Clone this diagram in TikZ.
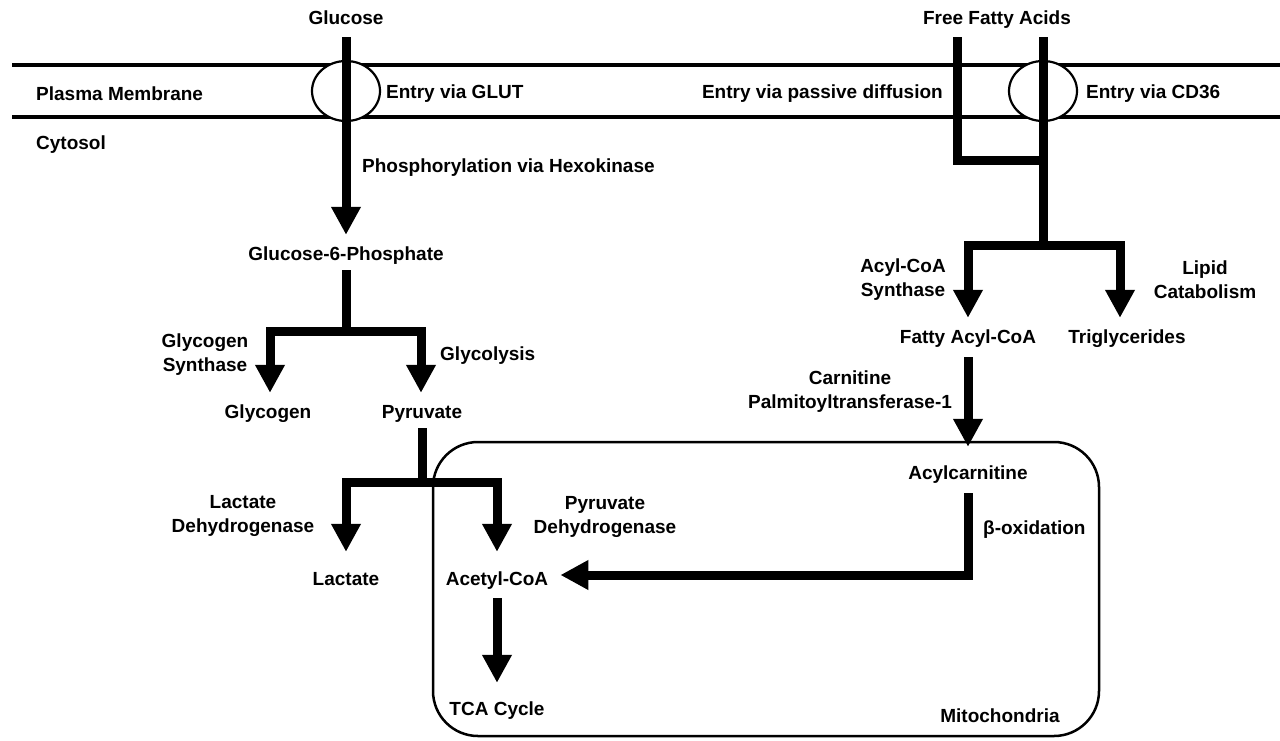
\documentclass[tikz,border=0pt]{standalone}
\usepackage{fontspec}
\setmainfont{Liberation Sans}
\usetikzlibrary{arrows.meta,shapes.geometric,calc}
\begin{document}
\begin{tikzpicture}[x=1pt,y=-1pt,
  every node/.style={font=\bfseries\fontsize{19}{24}\selectfont, inner sep=0pt},
  tx/.style={text height=14pt, text depth=4pt},
  lbl/.style={align=center},
  flow/.style={line width=9pt, line join=miter, -{Triangle[width=28pt,length=28pt]}},
  bar/.style={line width=9pt, line join=miter},
  mem/.style={line width=3.5pt},
  chan/.style={draw, ellipse, line width=2.2pt, fill=white, minimum width=68pt, minimum height=60pt},
  mitostyle/.style={draw, line width=2.5pt, rounded corners=45pt, minimum width=666pt, minimum height=294pt}
]
\useasboundingbox (0,0) rectangle (1280,740);

% plasma membrane
\draw[mem] (12,65) -- (1280,65);
\draw[mem] (12,117) -- (1280,117);

% transporters
\node[chan] (glut) at (346,91) {};
\node[chan] (cd36) at (1043,91) {};

% mitochondrion
\node[mitostyle] (mitobox) at (766,589) {};

% labels and metabolites
\node[tx] (glc) at (346,19) {Glucose};
\node[tx] (ffa) at (997,19) {Free Fatty Acids};
\node[tx,anchor=west] (pm) at (36,95) {Plasma Membrane};
\node[tx,anchor=west] (cyt) at (36,144) {Cytosol};
\node[tx,anchor=west] (eglut) at (386,93) {Entry via GLUT};
\node[tx,anchor=east] (epd) at (943,93) {Entry via passive diffusion};
\node[tx,anchor=west] (ecd) at (1086,93) {Entry via CD36};
\node[tx,anchor=west] (hex) at (362,167) {Phosphorylation via Hexokinase};
\node[tx] (g6p) at (346,255) {Glucose-6-Phosphate};
\node[lbl] (gs) at (205,355) {Glycogen\\Synthase};
\node[tx] (glyc) at (268,413) {Glycogen};
\node[tx] (pyr) at (422,413) {Pyruvate};
\node[tx,anchor=west] (glycol) at (440,355) {Glycolysis};
\node[lbl] (ldh) at (243,516) {Lactate\\Dehydrogenase};
\node[lbl] (pdh) at (605,517) {Pyruvate\\Dehydrogenase};
\node[tx] (lac) at (346,580) {Lactate};
\node[tx] (acoa) at (497,580) {Acetyl-CoA};
\node[tx] (tca) at (497,710) {TCA Cycle};
\node[tx] (mito) at (1000,717) {Mitochondria};
\node[lbl] (acs) at (903,280) {Acyl-CoA\\Synthase};
\node[lbl] (lip) at (1205,280) {Lipid\\Catabolism};
\node[tx] (faco) at (968,338) {Fatty Acyl-CoA};
\node[tx] (tg) at (1127,338) {Triglycerides};
\node[lbl] (cpt) at (850,392) {Carnitine\\Palmitoyltransferase-1};
\node[tx] (acar) at (968,474) {Acylcarnitine};
\node[tx,anchor=west] (beta) at (983,529) {β-oxidation};

% junction coordinates
\coordinate (g6pj) at ($(g6p.south)+(0,67)$);
\coordinate (pyrj) at ($(pyr.south)+(0,60)$);
\coordinate (ffal) at ($(ffa.south)+(-40,9)$);
\coordinate (ffar) at ($(ffa.south)+(46,9)$);
\coordinate (ffab) at ($(ffal)+(0,123)$);
\coordinate (ffaj) at ($(ffar)+(0,208)$);

% glucose branch
\draw[flow] ($(glc.south)+(0,9)$) -- ($(g6p.north)+(0,-11)$);
\draw[bar] ($(g6p.south)+(0,6)$) -- (g6pj);
\draw[flow] (g6pj) -| ($(glyc.north)+(2,-11)$);
\draw[flow] (g6pj) -| ($(pyr.north)+(-1,-11)$);
\draw[bar] ($(pyr.south)+(0,6)$) -- (pyrj);
\draw[flow] (pyrj) -| ($(lac.north)+(0,-19)$);
\draw[flow] (pyrj) -| ($(acoa.north)+(0,-19)$);
\draw[flow] ($(acoa.south)+(0,9)$) -- ($(tca.north)+(0,-18)$);

% fatty acid branch
\draw[bar] (ffal) |- (ffab -| ffar);
\draw[bar] (ffar) -- (ffaj);
\draw[flow] (ffaj) -| ($(faco.north)+(0,-11)$);
\draw[flow] (ffaj) -| ($(tg.north)+(-7,-11)$);
\draw[flow] ($(faco.south)+(0,10)$) -- ($(acar.north)+(0,-18)$);
\draw[flow] ($(acar.south)+(0,10)$) |- ($(acoa.east)+(12,-5)$);
\end{tikzpicture}
\end{document}
